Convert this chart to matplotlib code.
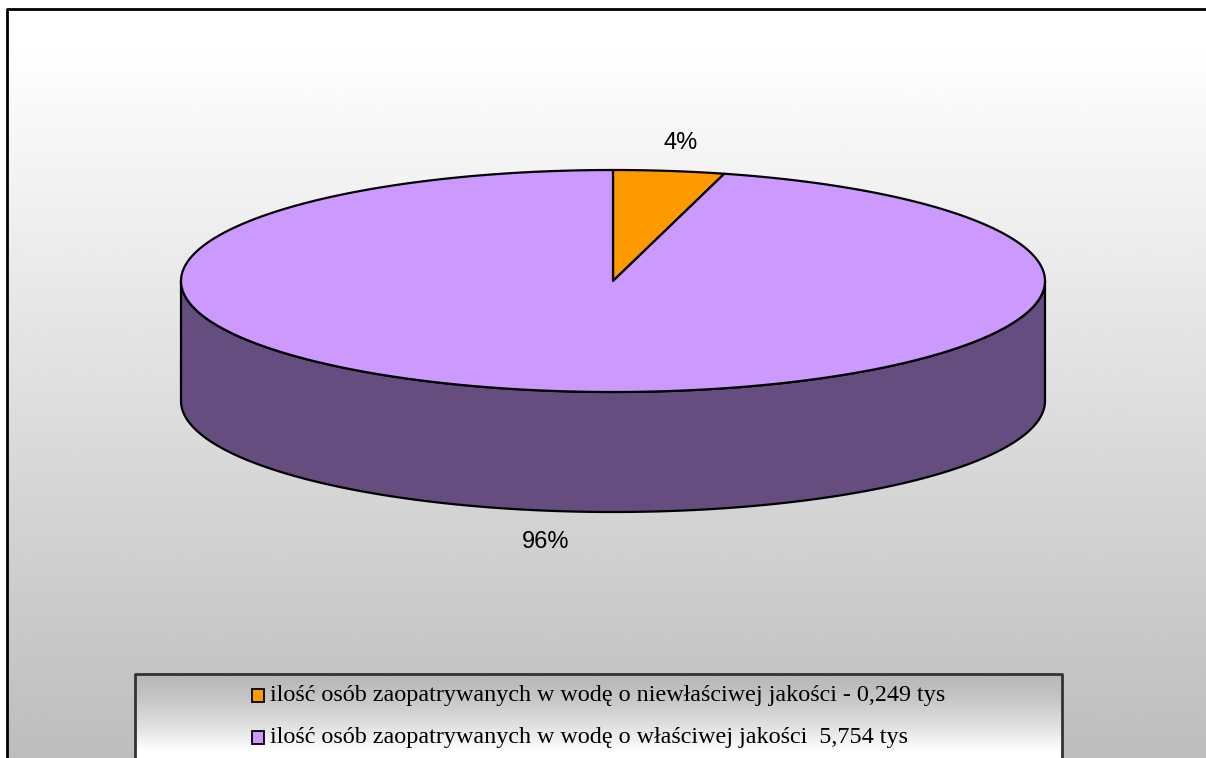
import numpy as np
import matplotlib.pyplot as plt
from matplotlib.patches import Polygon, Rectangle

# data
labels = ['ilość osób zaopatrywanych w wodę o niewłaściwej jakości - 0,249 tys',
          'ilość osób zaopatrywanych w wodę o właściwej jakości  5,754 tys']
values = [0.249, 5.754]
pct_labels = ['4%', '96%']
colors = ['#FF9900', '#CC99FF']
side_colors = ['#8C5400', '#654D7F']

W, H = 1206, 758
fig = plt.figure(figsize=(W / 100, H / 100), dpi=100)
ax = fig.add_axes([0, 0, 1, 1])
ax.set_xlim(0, W)
ax.set_ylim(H, 0)
ax.axis('off')

# chart area with vertical gradient
x0, y0 = 7, 9
ys = np.linspace(0, 1, 256)
g = 255 - 66 * np.clip((ys * (H - y0) + y0 - 40) / (H - 40), 0, 1)
grad = np.repeat((g / 255)[:, None], 2, axis=1)
ax.imshow(grad, cmap='gray', vmin=0, vmax=1, extent=[x0, W + 5, H, y0],
          aspect='auto', interpolation='bilinear', zorder=0)
ax.plot([x0, x0, W + 5], [H + 5, y0, y0], color='black', lw=2, zorder=1)

# 3d pie geometry
cx, cy, a, b, depth = 613, 281, 432, 111, 120
frac = np.array(values) / sum(values)
bounds = np.concatenate([[0], np.cumsum(frac) * 360])


def pt(theta, dy=0):
    t = np.radians(theta)
    return cx + a * np.sin(t), cy - b * np.cos(t) + dy


# side walls (front half: 90..270 deg)
for i in range(len(values)):
    lo, hi = max(bounds[i], 90), min(bounds[i + 1], 270)
    if hi <= lo:
        continue
    th = np.linspace(lo, hi, 200)
    tx, ty = pt(th)
    bx, by = pt(th[::-1], depth)
    poly = Polygon(np.column_stack([np.r_[tx, bx], np.r_[ty, by]]), closed=True,
                   facecolor=side_colors[i], edgecolor='black', lw=1.6, zorder=2)
    ax.add_patch(poly)

# top wedges
for i in range(len(values)):
    th = np.linspace(bounds[i], bounds[i + 1], 400)
    tx, ty = pt(th)
    poly = Polygon(np.column_stack([np.r_[cx, tx], np.r_[cy, ty]]), closed=True,
                   facecolor=colors[i], edgecolor='black', lw=1.6, zorder=3,
                   joinstyle='round')
    ax.add_patch(poly)

# percentage labels
ax.text(681, 143, pct_labels[0], fontsize=17, family='Liberation Sans',
        ha='center', va='center', zorder=5)
ax.text(546, 542, pct_labels[1], fontsize=17, family='Liberation Sans',
        ha='center', va='center', zorder=5)

# legend box with gradient (gray top -> white bottom)
lx0, lx1, ly0 = 135, 1062, 674
lt = np.linspace(0, 1, 256)
lg = 184 + 71 * np.clip(lt * 1.15, 0, 1) ** 1.4
lgrad = np.repeat((lg / 255)[:, None], 2, axis=1)
ax.imshow(lgrad, cmap='gray', vmin=0, vmax=1, extent=[lx0, lx1, H + 5, ly0],
          aspect='auto', interpolation='bilinear', zorder=4)
ax.plot([lx0, lx0, lx1, lx1], [H + 5, ly0, ly0, H + 5], color='#333333', lw=2, zorder=5)

for i, lab in enumerate(labels):
    yy = 695 + 42 * i
    ax.add_patch(Rectangle((252, yy - 6.5), 12, 13, facecolor=colors[i],
                           edgecolor='black', lw=1.3, zorder=6))
    ax.text(270, yy, lab, fontsize=17.4, family='Liberation Serif',
            ha='left', va='center', zorder=6)

fig.savefig('out.png', dpi=100)
